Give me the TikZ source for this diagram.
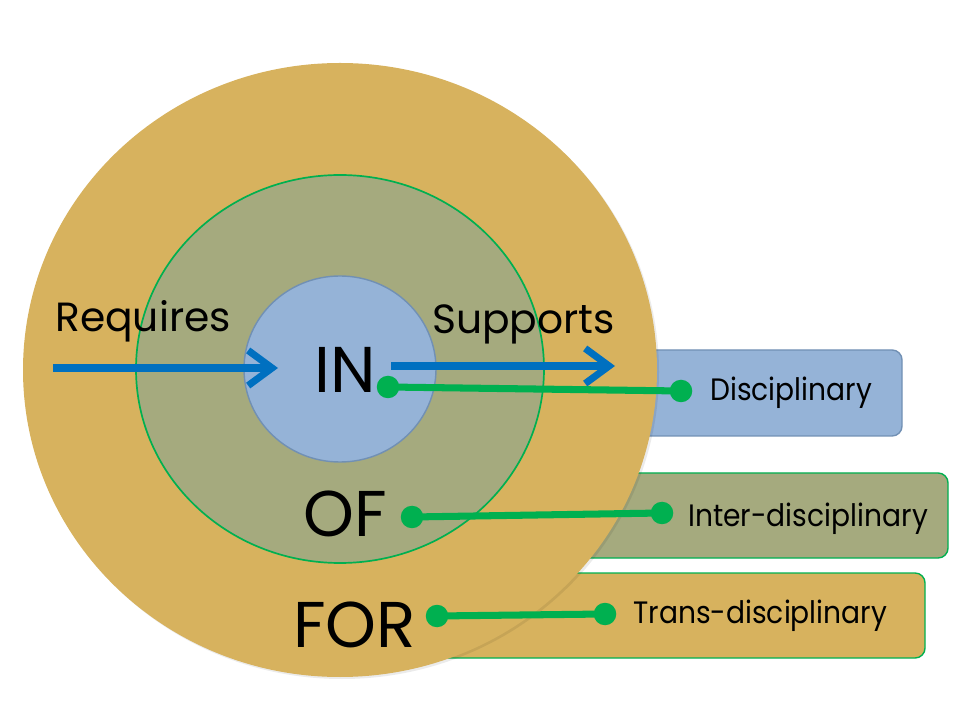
\documentclass[tikz,border=0pt]{standalone}
\usepackage{fontspec}
\setmainfont{Poppins}
\newfontfamily\narrowfont[FakeStretch=0.91]{Poppins}
\usetikzlibrary{arrows.meta}
\definecolor{ringFOR}{HTML}{D7B25E}
\definecolor{ringOF}{HTML}{A5AA7E}
\definecolor{ringIN}{HTML}{95B3D7}
\definecolor{inborder}{HTML}{7190B4}
\definecolor{linkgreen}{HTML}{00B050}
\definecolor{flowblue}{HTML}{0070C0}

\begin{document}
\begin{tikzpicture}[x=0.025cm,y=-0.025cm,
  lbl/.style={anchor=base west,inner sep=0pt,font=\fontsize{29}{31}\selectfont},
  big/.style={anchor=base west,inner sep=0pt,font=\fontsize{46}{48}\selectfont},
  small/.style={anchor=base west,inner sep=0pt,font=\narrowfont\fontsize{22}{24}\selectfont},
  dot/.style={circle,fill=linkgreen,inner sep=0pt,minimum size=16pt},
  link/.style={linkgreen,line width=5pt},
  flow/.style={flowblue,line width=5pt,-{Straight Barb[length=17pt,width=25pt]}},
  box/.style={rounded corners=7pt,line width=1pt}]
\useasboundingbox (0,0) rectangle (960,720);
\draw[box,draw=inborder,fill=ringIN] (560,350) rectangle (902,436);
\draw[box,draw=linkgreen,fill=ringOF] (560,473) rectangle (948,558);
\draw[box,draw=linkgreen,fill=ringFOR] (420,573) rectangle (925,658);
\fill[black,opacity=0.08] (342,372) ellipse [x radius=317,y radius=307];
\fill[ringFOR] (340,370) ellipse [x radius=317,y radius=307];
\draw[fill=ringOF,draw=linkgreen,line width=1.2pt] (340,369) ellipse [x radius=204,y radius=194];
\draw[fill=ringIN,draw=inborder,line width=1pt] (340,369) ellipse [x radius=96,y radius=93];
\node[lbl] (req) at (55,332) {Requires};
\node[lbl] (sup) at (432,334) {Supports};
\node[big] (in) at (314,393) {IN};
\node[big] (of) at (303,536) {OF};
\node[big] (for) at (293,647) {FOR};
\node[small] (disc) at (710,401) {Disciplinary};
\node[small] (inter) at (688,527) {Inter-disciplinary};
\node[small] (trans) at (633,623) {Trans-disciplinary};
\coordinate (reqS) at (53,368);
\coordinate (reqE) at (278,368);
\coordinate (supS) at (391,366);
\coordinate (supE) at (615,366);
\draw[flow] (reqS) -- (reqE);
\draw[flow] (supS) -- (supE);
\node[dot] (dIn) at (388,387) {};
\node[dot] (dDisc) at (681,391) {};
\node[dot] (dOf) at (412,517) {};
\node[dot] (dInter) at (662,513) {};
\node[dot] (dFor) at (437,616) {};
\node[dot] (dTrans) at (605,614) {};
\draw[link] (dIn.center) -- (dDisc.center);
\draw[link] (dOf.center) -- (dInter.center);
\draw[link] (dFor.center) -- (dTrans.center);
\end{tikzpicture}
\end{document}
